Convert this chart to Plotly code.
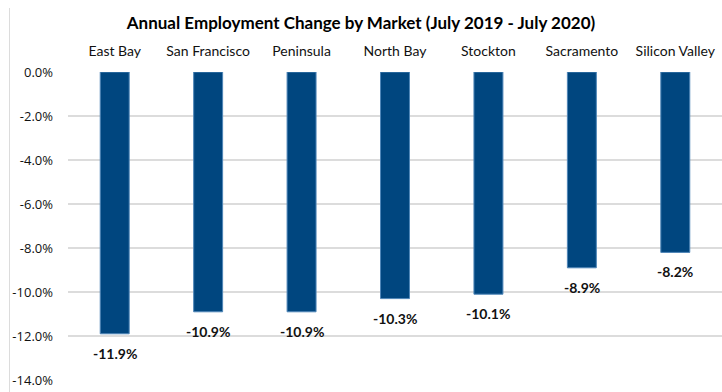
import plotly.graph_objects as go

markets = ["East Bay", "San Francisco", "Peninsula", "North Bay",
           "Stockton", "Sacramento", "Silicon Valley"]
change_pct = [-11.9, -10.9, -10.9, -10.3, -10.1, -8.9, -8.2]
y_ticks = [0, -2, -4, -6, -8, -10, -12, -14]
y_tick_labels = [f"{v:.1f}%" for v in y_ticks]

W, H = 722, 392
ML, MR, MT, MB = 68, 0, 72, 12

fig = go.Figure(go.Bar(
    x=markets,
    y=change_pct,
    marker=dict(color="#00467f", line=dict(color="#4f86b8", width=1)),
    width=0.31,
    hoverinfo="x+y",
))

# value labels sit just below the end of each bar
for m, v in zip(markets, change_pct):
    fig.add_annotation(
        x=m, y=v, text=f"<b>{v:.1f}%</b>",
        showarrow=False, yanchor="top", yshift=-9,
        font=dict(family="Lato", size=14, color="#111111"),
    )

fig.update_layout(
    width=W, height=H,
    margin=dict(l=ML, r=MR, t=MT, b=MB),
    paper_bgcolor="white",
    plot_bgcolor="white",
    showlegend=False,
    title=dict(
        text="<b>Annual Employment Change by Market (July 2019 - July 2020)</b>",
        x=0.5, xanchor="center", xref="container",
        y=1 - 23 / H, yanchor="middle", yref="container",
        font=dict(family="Lato", size=17, color="#000000", weight=900),
    ),
    xaxis=dict(
        side="top",
        range=[-0.5, 6.5],
        showgrid=False, showline=False, zeroline=False,
        ticks="",
        ticklabelstandoff=12,
        tickfont=dict(family="Lato", size=14, color="#111111"),
    ),
    yaxis=dict(
        range=[-14, 0],
        tickvals=y_ticks,
        ticktext=y_tick_labels,
        showgrid=True, gridcolor="#dcdcdc", gridwidth=1.5,
        zeroline=False, showline=False, ticks="",
        ticklabelstandoff=14,
        tickfont=dict(family="Open Sans", size=13, color="#111111"),
    ),
    shapes=[dict(
        type="line", xref="paper", yref="paper",
        x0=(9.5 - ML) / (W - ML - MR), x1=(9.5 - ML) / (W - ML - MR),
        y0=-MB / (H - MT - MB),
        y1=1 + (MT - 8) / (H - MT - MB),
        line=dict(color="#dcdcdc", width=1),
    )],
)

fig.write_html("out.html")
